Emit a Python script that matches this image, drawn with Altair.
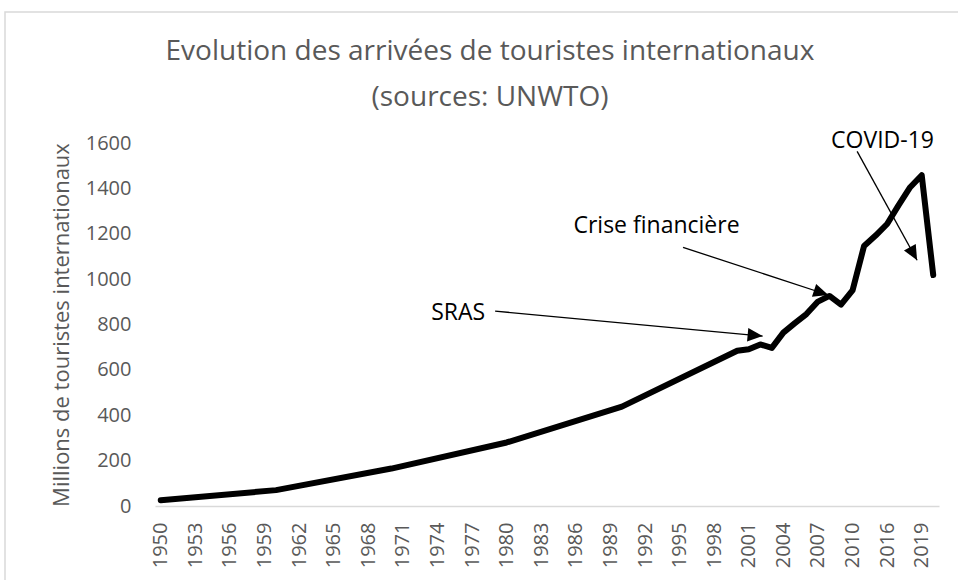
import math
import altair as alt
import pandas as pd

# ---------------- data ----------------
categories = list(range(1950, 2011)) + [2014, 2015, 2016, 2017, 2018, 2019, 2020]
tick_labels = [1950, 1953, 1956, 1959, 1962, 1965, 1968, 1971, 1974, 1977, 1980,
               1983, 1986, 1989, 1992, 1995, 1998, 2001, 2004, 2007, 2010, 2016, 2019]
y_ticks = [0, 200, 400, 600, 800, 1000, 1200, 1400, 1600]

obs_years = [1950, 1960, 1970, 1980, 1990, 2000, 2001, 2002, 2003, 2004, 2005,
             2006, 2007, 2008, 2009, 2010, 2014, 2015, 2016, 2017, 2018, 2019, 2020]
arrivals = [25, 70, 165, 280, 438, 684, 691, 712, 697, 764, 806,
            846, 901, 926, 888, 950, 1146, 1192, 1243, 1326, 1405, 1458, 1018]

# annotations (x in category-position units, y in millions)
ann_labels = ["SRAS", "Crise financière", "COVID-19"]
ann_x = [26.3, 43.5, 63.1]
ann_y = [852, 1233, 1609]
arrow_x0 = [29.5, 45.8, 60.9]
arrow_y0 = [859, 1140, 1563]
arrow_x1 = [52.7, 58.4, 66.1]
arrow_y1 = [749, 930, 1083]

TITLE = ["Evolution des arrivées de touristes internationaux", "(sources: UNWTO)"]
Y_TITLE = "Millions de touristes internationaux"

# ---------------- layout ----------------
W, H = 784, 363
NCAT = len(categories)
FONT = "Open Sans"
GREY = "#595959"

df_line = pd.DataFrame({"year": obs_years, "value": arrivals})

px_x = W / NCAT
px_y = H / 1600
angles = [math.degrees(math.atan2(-(y1 - y0) * px_y, (x1 - x0) * px_x)) % 360
          for x0, y0, x1, y1 in zip(arrow_x0, arrow_y0, arrow_x1, arrow_y1)]
df_arrows = pd.DataFrame({"x0": arrow_x0, "y0": arrow_y0, "x1": arrow_x1,
                          "y1": arrow_y1, "angle": angles})
df_text = pd.DataFrame({"label": ann_labels, "x": ann_x, "y": ann_y})

yscale = alt.Scale(domain=[0, 1600], nice=False)
ann_xscale = alt.Scale(domain=[0, NCAT], nice=False, zero=False)
y_axis = alt.Axis(values=y_ticks, format="d", title=Y_TITLE, titleFont=FONT,
                  titleFontSize=22, titleFontWeight="normal",
                  titleColor=GREY, titlePadding=12,
                  labelFont=FONT, labelFontSize=20, labelColor=GREY,
                  labelPadding=24, ticks=False, tickSize=0,
                  domain=False, grid=False)

line = alt.Chart(df_line).mark_line(
    color="black", strokeWidth=6, strokeCap="round", strokeJoin="round"
).encode(
    x=alt.X("year:O",
            scale=alt.Scale(type="point", domain=categories, padding=0.5),
            axis=alt.Axis(values=tick_labels, title=None, labelAngle=270,
                          labelFont=FONT, labelFontSize=20, labelColor=GREY,
                          labelPadding=16, ticks=False, tickSize=0,
                          domainColor="#d9d9d9", domainWidth=1.5,
                          labelOverlap=False, grid=False)),
    y=alt.Y("value:Q", scale=yscale, axis=y_axis),
)

rules = alt.Chart(df_arrows).mark_rule(color="black", strokeWidth=1.3).encode(
    x=alt.X("x0:Q", scale=ann_xscale, axis=None),
    x2="x1:Q",
    y=alt.Y("y0:Q", scale=yscale, axis=y_axis),
    y2="y1:Q",
)

heads = alt.Chart(df_arrows).mark_point(
    shape="M0,0L-1,-0.45L-1,0.45Z", filled=True, size=900, opacity=1,
    color="black", strokeWidth=0
).encode(
    x=alt.X("x1:Q", scale=ann_xscale, axis=None),
    y=alt.Y("y1:Q", scale=yscale, axis=y_axis),
    angle=alt.Angle("angle:Q", scale=None),
)

texts = alt.Chart(df_text).mark_text(
    font=FONT, fontSize=23, color="black", align="center", baseline="middle"
).encode(
    x=alt.X("x:Q", scale=ann_xscale, axis=None),
    y=alt.Y("y:Q", scale=yscale, axis=y_axis),
    text="label:N",
)

border = alt.Chart(pd.DataFrame({"a": [0]})).mark_rect(
    fill=None, stroke="#d9d9d9", strokeWidth=1.5
).encode(
    x=alt.value(-150), x2=alt.value(W + 60),
    y=alt.value(-131), y2=alt.value(H + 80),
)

chart = alt.layer(border, line, rules, heads, texts).resolve_scale(
    x="independent"
).properties(
    width=W, height=H,
    background="white",
    autosize=alt.AutoSizeParams(type="none"),
    padding={"left": 155, "top": 143, "right": 19, "bottom": 74},
    title=alt.TitleParams(text=TITLE, font=FONT, fontSize=28, fontWeight="normal",
                          color=GREY, anchor="middle", frame="group", dx=-57,
                          baseline="alphabetic", offset=-123, lineHeight=46),
).configure_view(stroke=None)

chart.save("out.html", embed_options={"renderer": "svg", "actions": False})
